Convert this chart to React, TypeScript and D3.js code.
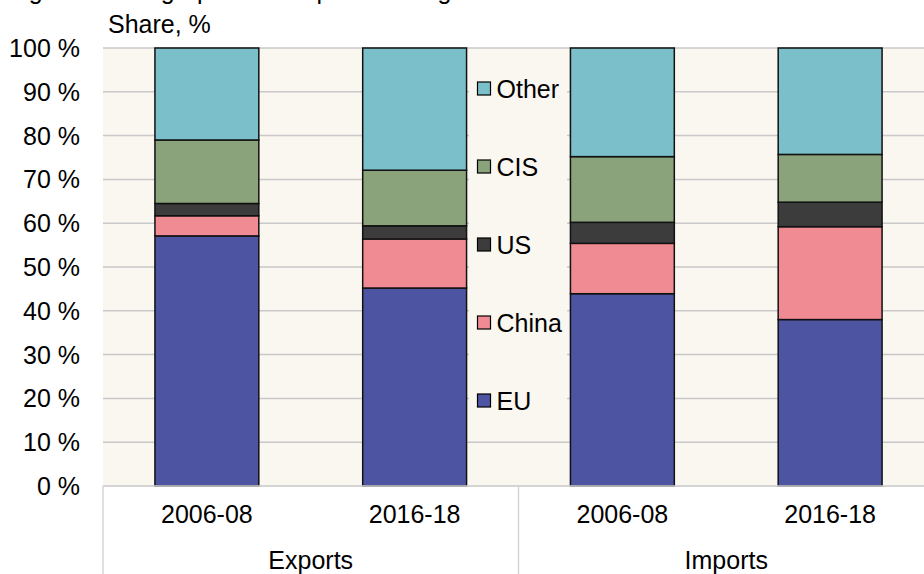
import * as d3 from "d3";

const groups = ["Exports", "Imports"];
const periods = ["2006-08", "2016-18"];
const seriesKeys = ["EU", "China", "US", "CIS", "Other"];
const seriesColors = ["#4d55a3", "#f08b93", "#3c3c3c", "#8aa37a", "#7bbfca"];

// share of each partner, % (order: Exports 2006-08, Exports 2016-18, Imports 2006-08, Imports 2016-18)
const euShare = [57.1, 45.2, 43.9, 38.0];
const chinaShare = [4.6, 11.2, 11.5, 21.2];
const usShare = [2.8, 3.0, 4.8, 5.6];
const cisShare = [14.5, 12.7, 15.0, 10.9];
const otherShare = [21.0, 27.9, 24.8, 24.3];

const yTicks = [0, 10, 20, 30, 40, 50, 60, 70, 80, 90, 100];

const FONT = "'Liberation Sans', Arial, sans-serif";

const App = () => {
  const width = 924;
  const height = 574;
  const margin = { top: 48, left: 103, right: 934, bottom: 486 };

  const rows = groups.flatMap((g) => periods.map((p) => ({ group: g, period: p })));
  const data = rows.map((r, i) => ({
    key: `${r.group}|${r.period}`,
    ...r,
    EU: euShare[i],
    China: chinaShare[i],
    US: usShare[i],
    CIS: cisShare[i],
    Other: otherShare[i],
  }));

  const x = d3
    .scaleBand()
    .domain(data.map((d) => d.key))
    .range([margin.left, margin.right])
    .paddingInner(0.5)
    .paddingOuter(0.25);

  const xGroup = d3.scaleBand().domain(groups).range([margin.left, margin.right]);

  const y = d3.scaleLinear().domain([0, 100]).range([margin.bottom, margin.top]);

  const color = d3.scaleOrdinal<string, string>().domain(seriesKeys).range(seriesColors);

  const stacked = d3.stack<any>().keys(seriesKeys)(data);

  const legendOrder = [...seriesKeys].reverse();
  const legendY = d3.scalePoint().domain(legendOrder).range([89, 401]);

  return (
    <svg
      width={width}
      height={height}
      style={{ position: "absolute", left: 0, top: 0, fontFamily: FONT }}
    >
      <rect x={0} y={0} width={width} height={height} fill="#ffffff" />
      {/* title, mostly above the visible area */}
      <text x={8} y={-1} fontSize={25} fill="#000">
        Figure 3. Geographical composition of goods trade
      </text>
      <text x={108} y={33} fontSize={25} fill="#000">
        Share, %
      </text>

      <rect
        x={margin.left}
        y={margin.top}
        width={margin.right - margin.left}
        height={margin.bottom - margin.top}
        fill="#faf6f0"
      />

      {yTicks.map((t) => (
        <g key={t}>
          <line x1={margin.left} x2={margin.right} y1={y(t)} y2={y(t)} stroke="#c9c9c9" strokeWidth={1.5} />
          <text x={80} y={y(t) + 9} fontSize={25} textAnchor="end" fill="#000">
            {t} %
          </text>
        </g>
      ))}

      {/* legend box covers the gridlines */}
      <rect x={469} y={50} width={98} height={390} fill="#faf6f0" />
      {legendOrder.map((k) => (
        <g key={k} transform={`translate(477.5, ${legendY(k)})`}>
          <rect x={0} y={-7} width={13} height={13} fill={color(k)} stroke="#000" strokeWidth={1.2} />
          <text x={19} y={9} fontSize={25} fill="#000">
            {k}
          </text>
        </g>
      ))}

      {stacked.map((layer) => (
        <g key={layer.key} fill={color(layer.key)}>
          {layer.map((d) => (
            <rect
              key={d.data.key}
              x={x(d.data.key)}
              y={y(d[1])}
              width={x.bandwidth()}
              height={y(d[0]) - y(d[1])}
              stroke="#111"
              strokeWidth={1.5}
            />
          ))}
        </g>
      ))}

      {/* category axis */}
      <line x1={margin.left} x2={margin.right} y1={margin.bottom} y2={margin.bottom} stroke="#d4d4d4" strokeWidth={1.5} />
      {groups.map((g) => (
        <g key={g}>
          <line
            x1={xGroup(g)!}
            x2={xGroup(g)!}
            y1={margin.bottom}
            y2={height}
            stroke="#d4d4d4"
            strokeWidth={1.5}
          />
          <text x={xGroup(g)! + xGroup.bandwidth() / 2} y={569} fontSize={25} textAnchor="middle" fill="#000">
            {g}
          </text>
        </g>
      ))}
      {data.map((d) => (
        <text key={d.key} x={x(d.key)! + x.bandwidth() / 2} y={523} fontSize={25} textAnchor="middle" fill="#000">
          {d.period}
        </text>
      ))}
    </svg>
  );
};

export default App;
